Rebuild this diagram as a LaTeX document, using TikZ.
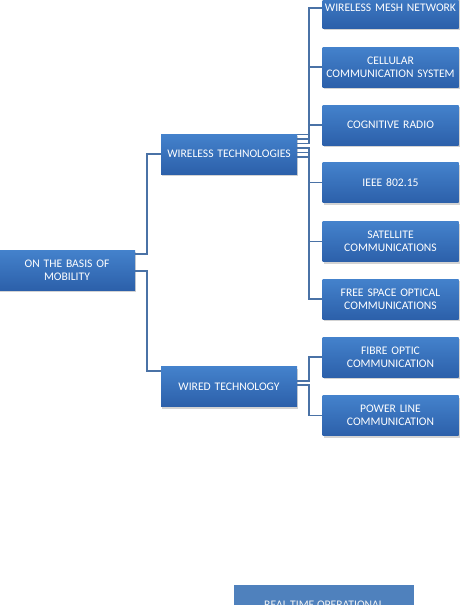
\documentclass[tikz,border=0pt]{standalone}
\usepackage{fontspec}
\setmainfont{Carlito}
\usepackage{xcolor}
\usepackage{tikz}
\usetikzlibrary{calc,shadows}

\definecolor{boxtop}{RGB}{68,130,204}
\definecolor{boxbot}{RGB}{44,96,170}
\definecolor{boxflat}{RGB}{79,129,189}
\definecolor{linkcol}{RGB}{74,114,166}

\tikzset{
  smartbox/.style={rectangle, top color=boxtop, bottom color=boxbot,
    draw=none, text=white, align=center, font=\fontsize{11.6}{12.7}\selectfont,
    minimum width=135pt, minimum height=40pt, inner sep=1pt, text width=134pt,
    drop shadow={shadow xshift=1pt, shadow yshift=-2pt, opacity=0.35}},
  flatbox/.style={rectangle, fill=boxflat, text=white!92!gray, align=center,
    font=\fontsize{11.6}{12.7}\selectfont, minimum width=180pt, minimum height=40pt},
  link/.style={draw=linkcol, line width=1.5pt}
}

\begin{document}
\begin{tikzpicture}[x=1pt, y=-1pt]
  \useasboundingbox (0,0) rectangle (463,605);
  \clip (0,0) rectangle (463,605);
  % first level
  \node[smartbox] (root) at (67,270) {ON THE BASIS OF\\MOBILITY};
  % second level
  \node[smartbox] (wt) at (229,154) {WIRELESS TECHNOLOGIES};
  \node[smartbox] (wd) at (229,386.5) {WIRED TECHNOLOGY};
  % wireless children
  \node[smartbox] (mesh) at (390.5,8) {WIRELESS MESH NETWORK};
  \node[smartbox] (cell) at (390.5,67) {CELLULAR\\COMMUNICATION SYSTEM};
  \node[smartbox] (cog) at (390.5,125) {COGNITIVE RADIO};
  \node[smartbox] (ieee) at (390.5,182.5) {IEEE 802.15};
  \node[smartbox] (sat) at (390.5,241.5) {SATELLITE\\COMMUNICATIONS};
  \node[smartbox] (fso) at (390.5,299) {FREE SPACE OPTICAL\\COMMUNICATIONS};
  % wired children
  \node[smartbox] (fibre) at (390.5,357) {FIBRE OPTIC\\COMMUNICATION};
  \node[smartbox] (plc) at (390.5,415.5) {POWER LINE\\COMMUNICATION};
  % next chart, cut by the page
  \node[flatbox] (rt) at (324,605) {REAL TIME OPERATIONAL};
  % connectors
  \draw[link] ([yshift=16pt]root.east) -- ++(12,0) |- (wt.west);
  \draw[link] ([yshift=-1pt]root.east) -- ++(12,0) |- ([yshift=15.5pt]wd.west);
  \foreach \c [count=\i] in {mesh,cell,cog,ieee,sat,fso}
    \draw[link] ([yshift={24pt-4.5pt*\i}]wt.east) -- ++(12,0) |- (\c.west);
  \draw[link] ([yshift=5.5pt]wd.east) -- ++(12,0) |- (fibre.west);
  \draw[link] ([yshift=1.5pt]wd.east) -- ++(12,0) |- (plc.west);
\end{tikzpicture}
\end{document}
